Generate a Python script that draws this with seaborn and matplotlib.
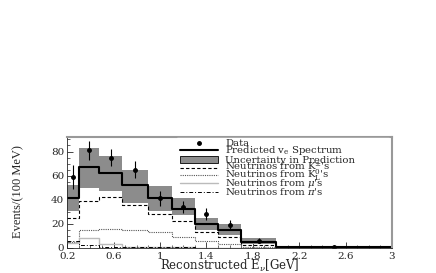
import numpy as np
import pandas as pd
import seaborn as sns
import matplotlib.pyplot as plt
from matplotlib.lines import Line2D
from matplotlib.patches import Rectangle
from matplotlib.ticker import MultipleLocator

# Bin edges (GeV) and per-100 MeV contents
edges = [0.2, 0.3, 0.475, 0.675, 0.9, 1.1, 1.3, 1.5, 1.7, 2.0, 3.0]
data = [59, 81, 75, 65, 41, 34, 28, 19, 6, 0.8]
data_err = [10, 8, 7, 7, 6, 5, 5, 4, 2, 0.5]
predicted = [41, 67, 62, 52, 41, 32, 19.5, 15, 5, 0.6]
band_hi = [52, 83, 76, 65, 51, 41, 25, 19.5, 8, 1.0]
band_lo = [31, 50, 47, 37, 31, 27, 15, 10.5, 3, 0.2]
k_charged = [25, 39, 42, 36, 28, 22, 13, 9, 2, 0.4]
k_long = [5, 15, 16, 15, 13, 9, 5.5, 3.5, 1, 0.2]
muons = [4, 8, 3.5, 1, 0.5, 0.4, 0.3, 0.2, 0.1, 0.05]
pions = [5.5, 2, 1, 0.6, 0.5, 0.4, 0.3, 0.2, 0.1, 0.05]

labels = [
    "Data",
    r"Predicted $\mathregular{v_e}$ Spectrum",
    "Uncertainty in Prediction",
    r"Neutrinos from $\mathregular{K^{\pm}}$'s",
    r"Neutrinos from $\mathregular{K^{0}_{L}}$'s",
    r"Neutrinos from $\mu$'s",
    r"Neutrinos from $\pi$'s",
]

sns.set_style("ticks")
plt.rcParams["font.family"] = ["DejaVu Serif"]
plt.rcParams["mathtext.fontset"] = "dejavuserif"

edges_a = np.array(edges)
centers = (edges_a[:-1] + edges_a[1:]) / 2

band_color = "#8c8c8c"
styles = {
    "k_charged": dict(color="black", lw=0.8, linestyle=(0, (3, 2))),
    "k_long": dict(color="#555555", lw=0.8, linestyle=(0, (1, 1))),
    "muons": dict(color="#bbbbbb", lw=1.0),
    "pions": dict(color="black", lw=0.7, linestyle=(0, (4, 2, 1, 2))),
    "predicted": dict(color="black", lw=1.5),
}

fig = plt.figure(figsize=(4.36, 2.73), dpi=100)
ax = fig.add_axes([0.154, 0.092, 0.745, 0.406])


def step_line(values, **kw):
    df = pd.DataFrame({"e": centers, "w": values})
    sns.histplot(data=df, x="e", weights="w", bins=edges, element="step",
                 fill=False, ax=ax, **kw)


# uncertainty band
ax.fill_between(edges_a, np.append(band_lo, band_lo[-1]),
                np.append(band_hi, band_hi[-1]), step="post",
                color=band_color, lw=0)

step_line(k_charged, **styles["k_charged"])
step_line(k_long, **styles["k_long"])
step_line(muons, **styles["muons"])
step_line(pions, **styles["pions"])
step_line(predicted, **styles["predicted"])

ax.errorbar(centers, data, yerr=data_err, fmt="o", color="black", ms=2.5,
            elinewidth=0.8, capsize=0)

ax.set_xlim(0.2, 3.0)
ax.set_ylim(0, 92)
ax.set_xticks([0.2, 0.6, 1.0, 1.4, 1.8, 2.2, 2.6, 3.0])
ax.set_xticklabels(["0.2", "0.6", "1", "1.4", "1.8", "2.2", "2.6", "3"])
ax.xaxis.set_minor_locator(MultipleLocator(0.1))
ax.yaxis.set_major_locator(MultipleLocator(20))
ax.yaxis.set_minor_locator(MultipleLocator(5))
ax.tick_params(direction="in", labelsize=7.5, length=4, width=0.6)
ax.tick_params(axis="x", pad=3)
ax.tick_params(axis="y", pad=2)
ax.tick_params(which="minor", direction="in", length=2, width=0.5)
for side in ["top", "right"]:
    ax.spines[side].set_visible(True)
    ax.spines[side].set_color("#999999")
    ax.spines[side].set_linewidth(1.5)
ax.spines["left"].set_linewidth(0.6)
ax.spines["bottom"].set_linewidth(0.6)

ax.set_xlabel(r"Reconstructed E$_{\nu}$[GeV]", fontsize=8.5, labelpad=-2)
ax.set_ylabel("")
fig.text(0.042, 0.297, "Events/(100 MeV)", rotation=90, fontsize=9,
         ha="center", va="center", family="Liberation Serif")

# compact legend laid out row by row (axes coordinates)
rows = [0.944, 0.881, 0.798, 0.722, 0.655, 0.582, 0.506]
h0, h1, tx = 0.348, 0.465, 0.486
ax.add_patch(Rectangle((h0 - 0.01, 0.49), 1.0 - h0, 0.5,
                       transform=ax.transAxes, color="white", zorder=4))
kw = dict(transform=ax.transAxes, zorder=5)
ax.plot([(h0 + h1) / 2], [rows[0]], "o", color="black", ms=2.5, **kw)
ax.plot([h0, h1], [rows[1]] * 2, **styles["predicted"], **kw)
ax.add_patch(Rectangle((h0, rows[2] - 0.03), h1 - h0, 0.06,
                       facecolor=band_color, edgecolor="black", lw=0.6, **kw))
for y, key in zip(rows[3:], ["k_charged", "k_long", "muons", "pions"]):
    ax.plot([h0, h1], [y, y], **styles[key], **kw)
for y, lab in zip(rows, labels):
    ax.text(tx, y - 0.028, lab, fontsize=7.3, va="baseline", ha="left", **kw)

fig.savefig("out.png", dpi=100)
